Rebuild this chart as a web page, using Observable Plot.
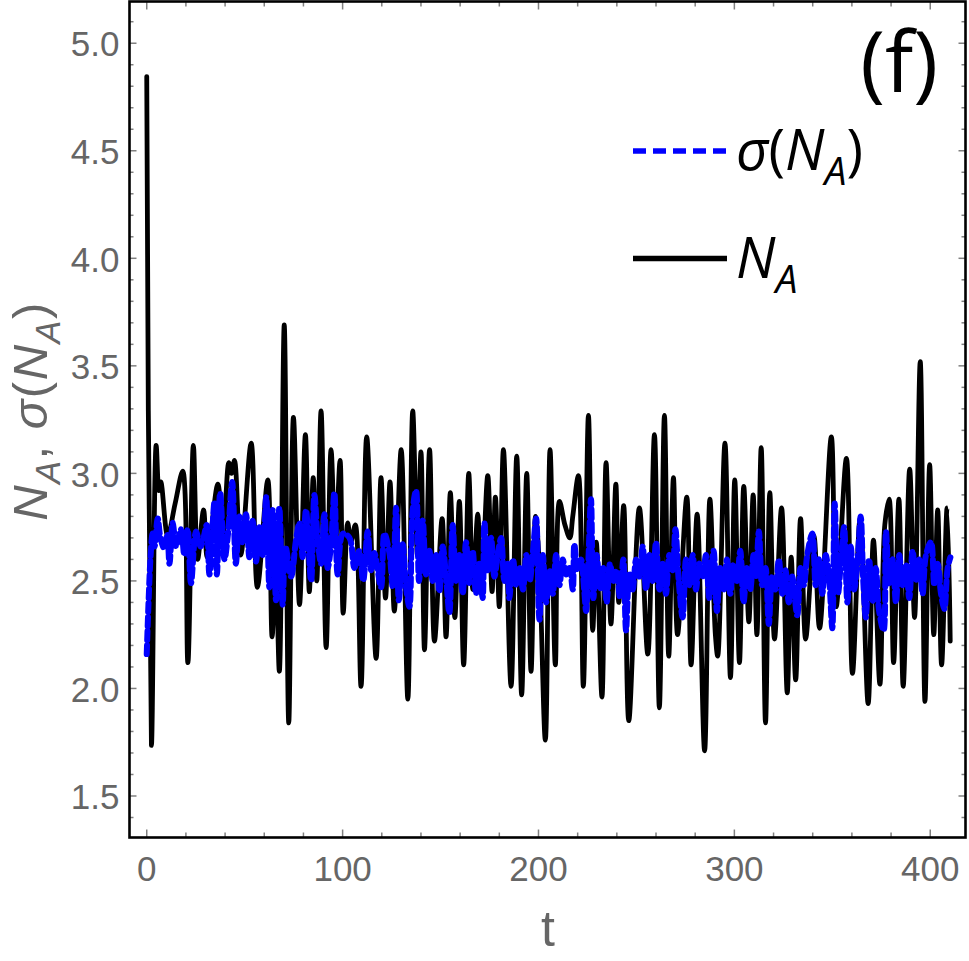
<!DOCTYPE html>
<html><head><meta charset="utf-8">
<script src="https://cdn.jsdelivr.net/npm/d3@7"></script>
<script src="https://cdn.jsdelivr.net/npm/@observablehq/plot@0.6"></script>
<style>html,body{margin:0;padding:0;background:#fff} svg{display:block;overflow:visible}</style>
</head><body><div id="chart"></div>
<script>
// N_A (black solid) – local extrema
const tN = [0,2.4,4.8,6.2,7.2,10.7,14.5,18.4,21.0,23.8,26.0,29.0,30.9,36.3,39.0,41.9,43.3,44.8,48.0,53.3,56.5,61.8,64.0,65.8,67.7,70.2,72.5,74.9,78.0,81.0,83.0,85.0,86.8,89.0,91.6,94.1,96.3,98.7,100.3,102.6,104.2,106.5,109.4,112.3,117.1,119.6,121.9,124.2,126.4,129.9,133.3,135.8,138.2,140.0,141.8,144.4,146.9,150.8,152.8,155.0,157.3,159.6,161.8,164.4,166.5,169.0,170.8,174.1,176.3,178.0,180.0,182.1,186.0,188.9,191.4,194.0,196.2,198.5,200.3,203.5,205.9,208.6,210.7,213.5,216.0,217.5,220.4,222.9,225.5,227.7,229.5,232.4,234.5,237.0,239.5,241.0,243.5,246.1,251.5,255.8,259.2,261.7,264.3,266.5,268.9,271.0,275.7,277.9,281.0,284.8,287.5,290.3,291.5,295.2,298.0,300.2,302.6,304.8,307.4,309.6,311.5,313.7,315.9,318.1,320.5,324.1,327.0,329.0,331.3,333.8,336.4,340.6,343.5,349.5,352.0,357.2,360.3,364.2,368.3,371.0,374.3,376.8,379.0,381.3,384.0,386.2,389.5,392.0,394.9,397.3,399.7,401.8,403.8,405.8,408.6,410.2];
const vN = [4.845,1.735,3.13,2.92,2.96,2.71,2.86,3.01,2.12,3.13,2.60,2.83,2.61,2.95,2.72,3.05,3.00,3.06,2.62,3.14,2.47,2.97,2.24,2.60,2.08,3.69,1.84,3.26,2.39,3.18,2.45,2.98,2.50,3.29,2.19,3.11,2.66,3.06,2.35,2.77,2.68,2.76,2.01,3.17,2.14,2.98,2.42,2.96,2.36,3.11,1.95,3.29,2.62,3.10,2.18,3.11,2.22,2.79,2.24,2.91,2.33,2.87,2.11,3.00,2.46,2.81,2.44,2.99,2.45,2.89,2.38,3.11,2.01,3.08,1.97,3.00,2.08,2.80,2.60,1.76,3.11,2.11,2.87,2.76,2.70,2.80,2.99,2.01,3.27,2.27,2.68,1.96,3.05,2.30,2.95,2.40,2.85,1.85,2.84,2.16,3.18,1.91,3.27,2.15,2.98,2.25,2.89,2.11,2.81,1.71,2.88,2.25,2.15,3.14,2.05,2.97,2.12,2.94,2.31,2.90,2.25,3.12,1.84,2.91,2.23,2.84,1.98,2.61,2.04,2.79,2.23,2.71,2.28,3.17,2.38,3.07,2.07,2.79,1.93,2.69,2.02,2.76,2.88,2.12,2.88,2.01,3.02,2.33,3.52,1.94,3.04,2.25,2.83,2.11,2.84,2.22];

// sigma(N_A) (blue dashed)
const tS = [0,1.0,2.0,3.0,4.0,5.6,7.0,9.0,10.5,11.6,13.3,15.0,17.5,19.2,20.9,22.6,25.2,27.5,29.0,30.6,32.0,34.6,35.8,37.5,39.7,41.5,43.6,45.5,47.3,48.8,50.7,52.4,54.1,55.8,57.5,59.2,61.0,62.6,64.3,66.0,67.7,69.4,70.8,73.7,76.2,77.9,79.6,81.3,83.9,85.6,87.3,89.0,90.7,92.4,94.1,95.8,97.5,100.1,103.5,106.0,108.5,110.5,112.8,114.5,116.2,119.6,121.3,123.9,125.6,127.3,128.7,130.7,132.4,134.1,135.8,137.5,139.0,140.9,142.6,144.3,146,147.7,149.4,151.1,152.8,154.5,156.2,157.9,159.6,161.3,163.0,164.7,166.4,168.1,169.8,171.5,172.4,174.1,175.8,177.5,179.2,180.9,182.6,184.3,185.1,187.0,188.7,190.4,192.1,193.8,195.5,197.2,198.8,200.5,202.2,203.9,205.6,207.3,209.0,210.7,212.4,214.1,215.8,217.5,218.3,220.0,221.7,223.4,224.3,225.5,226.8,228.0,229.7,231.4,233.1,234.8,236.5,238.2,239.9,241.6,243.3,244.7,246.4,248.1,249.8,251.5,253.2,254.9,256.6,258.3,260.0,261.7,263.4,265.1,266.8,268.5,269.9,271.6,273.6,275.3,277.0,278.7,280.4,282.1,283.8,285.5,287.2,289.4,291.1,292.8,294.5,296.2,297.9,299.6,301.3,303.0,304.7,306.4,308.1,309.8,311.0,312.5,314.2,315.9,317.6,319.3,321.0,322.7,324.4,326.1,327.8,329.5,332.1,333.8,335.5,337.2,339.8,341.5,343.2,344.9,346.6,348.3,350.0,351.2,352.9,354.6,356.0,357.7,359.4,361.1,362.8,364.5,365.8,367.1,368.8,370.5,372.2,373.9,376.2,377.4,379.1,380.8,382.5,384.2,385.9,387.6,389.3,391.0,392.7,394.4,396.1,397.8,400.4,402.1,403.8,405.5,407.2,408.9,410.3];
const vS = [2.16,2.42,2.62,2.72,2.66,2.79,2.70,2.65,2.72,2.58,2.77,2.66,2.74,2.62,2.74,2.49,2.73,2.66,2.70,2.76,2.53,2.87,2.53,2.91,2.60,2.72,2.96,2.58,2.80,2.68,2.81,2.61,2.78,2.59,2.75,2.62,2.89,2.47,2.83,2.41,2.84,2.39,2.66,2.52,2.69,2.77,2.61,2.83,2.50,2.90,2.69,2.58,2.81,2.56,2.67,2.91,2.53,2.72,2.70,2.56,2.64,2.50,2.73,2.55,2.63,2.47,2.72,2.63,2.47,2.84,2.41,2.67,2.47,2.38,2.83,2.92,2.50,2.78,2.53,2.64,2.50,2.62,2.45,2.66,2.52,2.35,2.76,2.50,2.62,2.44,2.68,2.49,2.64,2.44,2.58,2.42,2.77,2.55,2.70,2.52,2.62,2.70,2.50,2.58,2.42,2.60,2.48,2.56,2.46,2.62,2.50,2.64,2.79,2.32,2.62,2.40,2.55,2.44,2.62,2.48,2.60,2.53,2.56,2.46,2.67,2.55,2.60,2.45,2.36,2.60,2.88,2.42,2.62,2.46,2.56,2.40,2.58,2.50,2.55,2.42,2.60,2.27,2.54,2.46,2.60,2.52,2.66,2.46,2.62,2.50,2.68,2.46,2.58,2.44,2.62,2.55,2.74,2.50,2.33,2.60,2.48,2.62,2.46,2.58,2.52,2.62,2.42,2.64,2.36,2.56,2.46,2.60,2.44,2.58,2.50,2.64,2.40,2.56,2.46,2.62,2.52,2.73,2.48,2.56,2.30,2.52,2.46,2.60,2.44,2.55,2.40,2.52,2.34,2.56,2.48,2.62,2.72,2.48,2.60,2.44,2.62,2.52,2.28,2.86,2.44,2.62,2.75,2.40,2.66,2.46,2.58,2.80,2.50,2.33,2.60,2.40,2.56,2.36,2.27,2.73,2.48,2.60,2.40,2.62,2.48,2.58,2.42,2.64,2.50,2.60,2.44,2.62,2.68,2.48,2.58,2.44,2.37,2.56,2.61];

const xMajor = [0, 100, 200, 300, 400];
const xMinor = [20,40,60,80,120,140,160,180,220,240,260,280,320,340,360,380];
const yMajor = [1.5, 2.0, 2.5, 3.0, 3.5, 4.0, 4.5, 5.0];
const yMinor = [1.4,1.6,1.7,1.8,1.9,2.1,2.2,2.3,2.4,2.6,2.7,2.8,2.9,3.1,3.2,3.3,3.4,3.6,3.7,3.8,3.9,4.1,4.2,4.3,4.4,4.6,4.7,4.8,4.9,5.1];

const black = tN.map((t, i) => ({t, v: vN[i]}));
const blue = tS.map((t, i) => ({t, v: vS[i]}));

const tk = {stroke: "#808080", strokeWidth: 1.5, fill: "none", label: null};
const lab = {tickSize: 0, fontSize: 35, fill: "#666", label: null};

const plot = Plot.plot({
  width: 969, height: 961,
  marginLeft: 129, marginRight: 4, marginTop: 1, marginBottom: 124,
  x: {domain: [-8.8, 418], label: null},
  y: {domain: [1.307, 5.194], label: null},
  style: {fontFamily: "'Liberation Sans', Arial, sans-serif", background: "#fff"},
  marks: [
    Plot.line(black, {x: "t", y: "v", stroke: "#000", strokeWidth: 4.8, curve: "catmull-rom"}),
    Plot.line(blue, {x: "t", y: "v", stroke: "#0000ff", strokeWidth: 6, strokeDasharray: "9,5", curve: "catmull-rom"}),
    Plot.axisX(xMajor, {anchor: "bottom", tickPadding: 19, ...lab}),
    Plot.axisY(yMajor, {anchor: "left", tickPadding: 10, dy: 2, tickFormat: d3.format(".1f"), ...lab}),
    Plot.axisX(xMajor, {anchor: "bottom", tickSize: -7.5, ...tk}),
    Plot.axisX(xMinor, {anchor: "bottom", tickSize: -4.5, ...tk}),
    Plot.axisX(xMajor, {anchor: "top", tickSize: -7.5, ...tk}),
    Plot.axisX(xMinor, {anchor: "top", tickSize: -4.5, ...tk}),
    Plot.axisY(yMajor, {anchor: "left", tickSize: -7.5, ...tk}),
    Plot.axisY(yMinor, {anchor: "left", tickSize: -4.5, ...tk}),
    Plot.axisY(yMajor, {anchor: "right", tickSize: -7.5, ...tk}),
    Plot.axisY(yMinor, {anchor: "right", tickSize: -4.5, ...tk}),
    Plot.frame({stroke: "#000", strokeWidth: 2.6})
  ]
});
document.getElementById("chart").appendChild(plot);

// decorations: axis titles, legend, panel label
const svg = d3.select(plot);
const deco = svg.append("g");

function rich(text, parts, size) {
  let shifted = false;
  for (const [s, st] of parts) {
    const ts = text.append("tspan").text(s);
    if (st.includes("i")) ts.attr("font-style", "italic");
    if (st.includes("sub")) {
      ts.attr("font-size", size * 0.7);
      if (!shifted) { ts.attr("dy", size * 0.27); shifted = true; }
    } else if (shifted) { ts.attr("dy", -size * 0.27); shifted = false; }
  }
}

// x title
deco.append("text").attr("x", 548).attr("y", 946).attr("text-anchor", "middle")
  .attr("font-family", "'Liberation Sans', Arial, sans-serif").attr("font-size", 50).attr("fill", "#666").text("t");

// y title
const yt = deco.append("text").attr("transform", "translate(47,411) rotate(-90)").attr("text-anchor", "middle")
  .attr("font-family", "'Liberation Sans', Arial, sans-serif").attr("font-size", 49).attr("letter-spacing", 1.5).attr("fill", "#666");
rich(yt, [["N", "i"], ["A", "i sub"], [", ", ""], ["σ", "i"], ["(", ""], ["N", "i"], ["A", "i sub"], [")", ""]], 49);

// panel label
deco.append("text").attr("x", 938).attr("y", 92).attr("text-anchor", "end")
  .attr("font-family", "'Open Sans', sans-serif").attr("font-size", 84).attr("fill", "#000").text("(f)");

// legend
const legendItems = [
  {y: 151, stroke: "#0000ff", dash: "13,7", parts: [["σ", "i"], ["(", ""], ["N", "i"], ["A", "i sub"], [")", ""]]},
  {y: 258.5, stroke: "#000", dash: null, parts: [["N", "i"], ["A", "i sub"]]}
];
for (const it of legendItems) {
  const ln = deco.append("line").attr("x1", 633).attr("x2", 727).attr("y1", it.y).attr("y2", it.y)
    .attr("stroke", it.stroke).attr("stroke-width", 5.5);
  if (it.dash) ln.attr("stroke-dasharray", it.dash);
  const tx = deco.append("text").attr("x", 736).attr("y", it.y + 19).attr("text-anchor", "start")
    .attr("font-family", "'Open Sans', sans-serif").attr("font-size", 56).attr("fill", "#000");
  rich(tx, it.parts, 56);
}
</script>
</body></html>
